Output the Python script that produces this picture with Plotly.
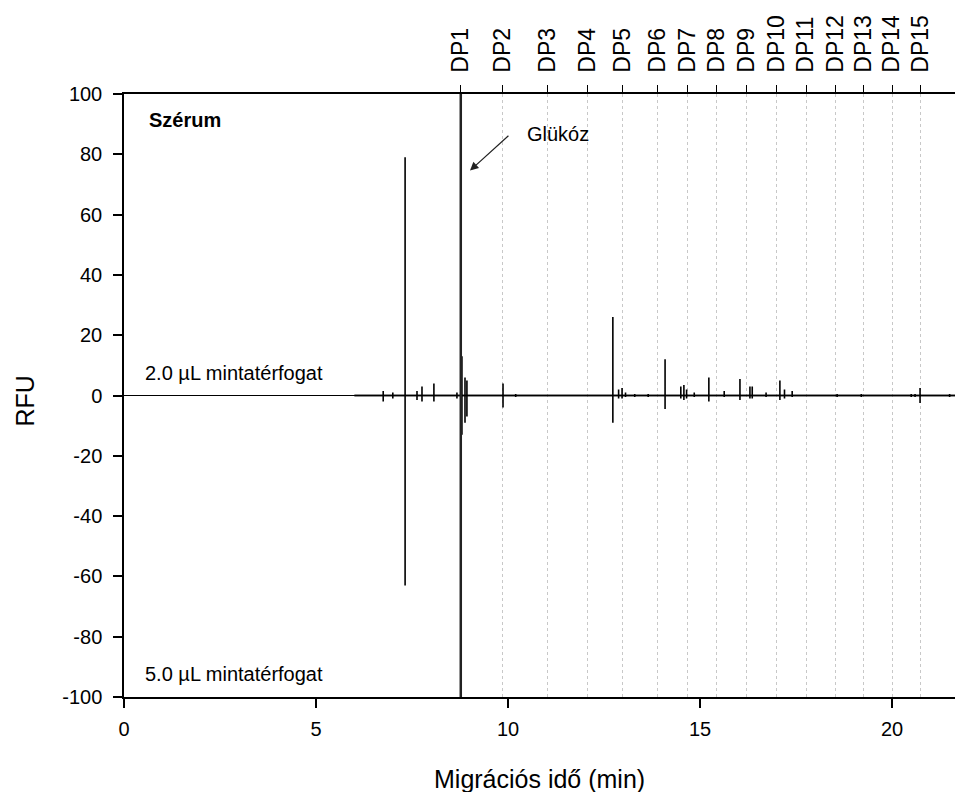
import plotly.graph_objects as go

# ---------------- data ----------------
dp_labels = ["DP1", "DP2", "DP3", "DP4", "DP5", "DP6", "DP7", "DP8", "DP9", "DP10",
             "DP11", "DP12", "DP13", "DP14", "DP15"]
dp_times = [8.77, 9.86, 11.02, 12.07, 12.99, 13.89, 14.67, 15.43, 16.20, 16.98,
            17.76, 18.52, 19.25, 20.00, 20.73]

# peak migration times (min)
peak_times = [6.75, 7.00, 7.32, 7.63, 7.76, 8.07, 8.67, 8.80, 8.88, 8.93, 9.87, 10.20,
              12.73, 12.88, 12.97, 13.06, 13.30, 13.65, 14.09, 14.50, 14.58, 14.65,
              14.85, 15.23, 15.63, 16.04, 16.30, 16.36, 16.72, 17.08, 17.20, 17.40,
              18.57, 19.20, 20.50, 20.60, 20.73, 21.50]
# 2.0 uL sample volume (plotted upward)
rfu_2uL = [1.5, 1.0, 79, 1.5, 3.0, 4.0, 1.0, 13, 6.0, 5.0, 4.0, 0.5,
           26, 2.0, 2.5, 1.0, 0.5, 0.5, 12, 3.0, 3.5, 2.0,
           1.0, 6.0, 1.5, 5.5, 3.0, 3.0, 1.0, 5.0, 2.0, 1.5,
           0.5, 0.5, 0.5, 0.5, 2.5, 0.5]
# 5.0 uL sample volume (plotted mirrored, downward)
rfu_5uL = [2.0, 1.0, 63, 1.5, 2.0, 2.0, 1.0, 13, 9.0, 7.0, 4.0, 0.5,
           9.0, 1.0, 1.0, 0.5, 0.5, 0.5, 4.5, 1.0, 1.5, 1.0,
           0.5, 2.0, 0.5, 1.5, 1.0, 1.0, 0.5, 1.5, 1.0, 0.5,
           0.5, 0.5, 0.5, 0.5, 2.5, 0.5]
signal_start, signal_end = 6.0, 21.7

x_ticks = [0, 5, 10, 15, 20]
y_ticks = [-100, -80, -60, -40, -20, 0, 20, 40, 60, 80, 100]
y_ticktext = ["-100", "-80", "-60", "-40", "-20", "0", "20", "40", "60", "80", "100"]

# ---------------- figure ----------------
FONT = "Liberation Sans, Arial, sans-serif"

def stems(times, values, sign):
    xs, ys = [signal_start], [0]
    for t, v in zip(times, values):
        xs += [t, t, t]
        ys += [0, sign * v, 0]
    xs.append(signal_end)
    ys.append(0)
    return xs, ys

fig = go.Figure()
x2, y2 = stems(peak_times, rfu_2uL, 1)
x5, y5 = stems(peak_times, rfu_5uL, -1)
fig.add_trace(go.Scatter(x=x2, y=y2, mode="lines", line=dict(color="black", width=1.6),
                         showlegend=False, hoverinfo="skip"))
fig.add_trace(go.Scatter(x=x5, y=y5, mode="lines", line=dict(color="black", width=1.6),
                         showlegend=False, hoverinfo="skip"))
# invisible trace to activate the top axis
fig.add_trace(go.Scatter(x=dp_times, y=[0] * len(dp_times), xaxis="x2", mode="markers",
                         marker=dict(opacity=0), showlegend=False, hoverinfo="skip"))

# DP1 (glucose) solid marker line
fig.add_shape(type="line", xref="x", yref="paper", x0=dp_times[0], x1=dp_times[0],
              y0=0, y1=1, line=dict(color="#222222", width=2.5))

xmax = 21.64
fig.update_layout(
    width=955, height=792,
    margin=dict(l=124, r=0, t=94, b=95),
    paper_bgcolor="white", plot_bgcolor="white",
    font=dict(family=FONT, size=20, color="black"),
    xaxis=dict(range=[0, xmax], tickvals=x_ticks, showgrid=False, zeroline=False,
               showline=True, linecolor="black", linewidth=1.5,
               ticks="outside", ticklen=9, tickwidth=1.5, tickcolor="black",
               ticklabelstandoff=4, tickfont=dict(size=20)),
    xaxis2=dict(range=[0, xmax], overlaying="x", side="top", tickvals=dp_times,
                ticktext=dp_labels, tickangle=-90, showgrid=True,
                gridcolor="#c8c8c8", griddash="dot", gridwidth=1,
                showline=True, linecolor="black", linewidth=1.5,
                ticks="outside", ticklen=7, tickwidth=1.2, tickcolor="black",
                ticklabelstandoff=8, tickfont=dict(size=23), zeroline=False),
    yaxis=dict(range=[-100, 100], tickvals=y_ticks, ticktext=y_ticktext,
               showgrid=False, zeroline=True, zerolinecolor="black", zerolinewidth=1.2,
               showline=True, linecolor="black", linewidth=1.5,
               ticks="outside", ticklen=9, tickwidth=1.5, tickcolor="black",
               ticklabelstandoff=7, tickfont=dict(size=20)),
)

fig.add_annotation(text="<b>Szérum</b>", x=0.6, y=91.5, xref="x", yref="y",
                   xanchor="left", yanchor="middle", showarrow=False, font=dict(size=20))
fig.add_annotation(text="2.0 µL mintatérfogat", x=0.49, y=7.6, xref="x", yref="y",
                   xanchor="left", yanchor="middle", showarrow=False, font=dict(size=20))
fig.add_annotation(text="5.0 µL mintatérfogat", x=0.49, y=-92.5, xref="x", yref="y",
                   xanchor="left", yanchor="middle", showarrow=False, font=dict(size=20))
fig.add_annotation(text="Glükóz", x=10.44, y=86.6, xref="x", yref="y",
                   xanchor="left", yanchor="middle", showarrow=False, font=dict(size=20))
fig.add_annotation(x=9.01, y=74.6, ax=10.05, ay=86.6, xref="x", yref="y",
                   axref="x", ayref="y", text="", showarrow=True, arrowhead=2,
                   arrowsize=1.4, arrowwidth=1.2, arrowcolor="#222222")
fig.add_annotation(text="RFU", xref="paper", yref="paper", x=0, y=0.5, xshift=-100,
                   yshift=-6, textangle=-90, showarrow=False, font=dict(size=25),
                   xanchor="center", yanchor="middle")
fig.add_annotation(text="Migrációs idő (min)", xref="paper", yref="paper", x=0.5, y=0,
                   yshift=-82, showarrow=False, font=dict(size=25),
                   xanchor="center", yanchor="middle")

fig.write_html("out.html")
